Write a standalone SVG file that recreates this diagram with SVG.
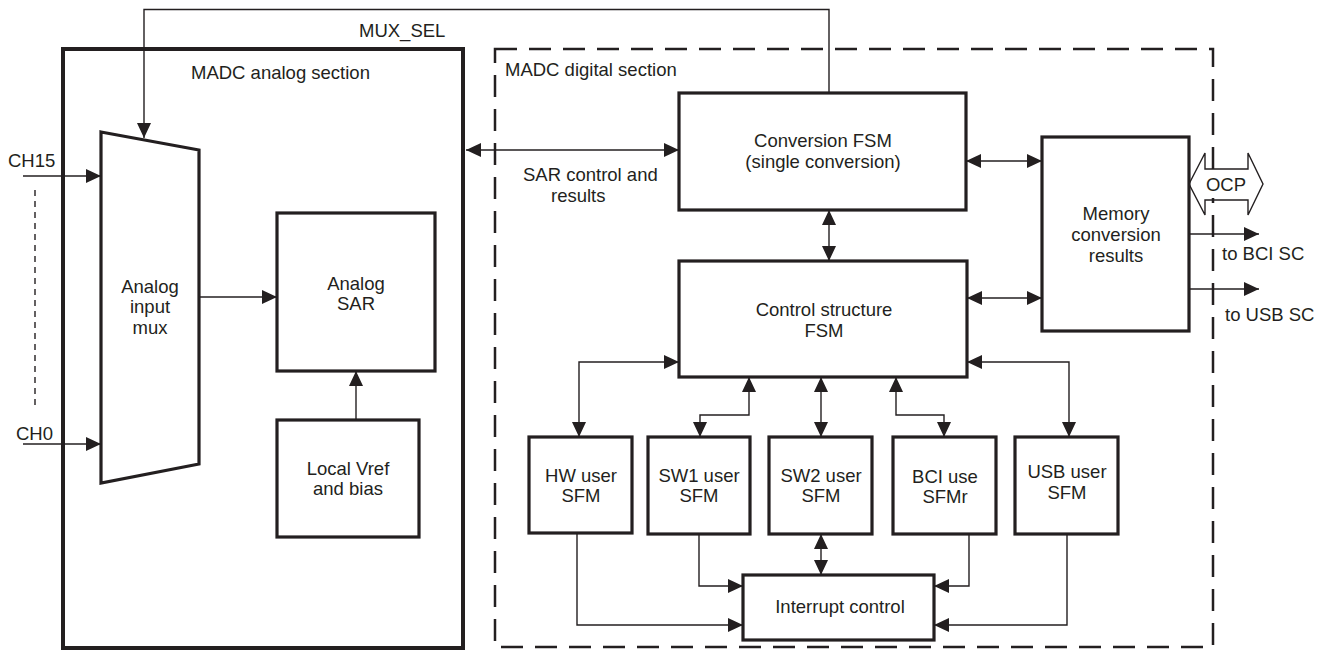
<svg xmlns="http://www.w3.org/2000/svg" width="1326" height="650" viewBox="0 0 1326 650">
<defs>
<marker id="ah" viewBox="0 0 15 14" refX="15" refY="7" markerWidth="15" markerHeight="14" markerUnits="userSpaceOnUse" orient="auto-start-reverse">
<path d="M0,0 L15,7 L0,14 z" fill="#231f20"/>
</marker>
</defs>
<style>
text{font-family:"Liberation Sans",Arial,sans-serif;font-size:18.5px;fill:#231f20}
.c{text-anchor:middle}
.box{fill:none;stroke:#231f20;stroke-width:3.2}
.w{fill:none;stroke:#231f20;stroke-width:1.4}
.a{marker-end:url(#ah)}
.d{marker-start:url(#ah);marker-end:url(#ah)}
</style>
<rect x="0" y="0" width="1326" height="650" fill="#fff"/>
<g id="analog-section">
<rect x="63" y="49" width="400" height="599" fill="none" stroke="#231f20" stroke-width="4"/>
<text x="191" y="79">MADC analog section</text>
</g>
<g id="digital-section">
<rect x="495" y="49" width="718" height="598" fill="none" stroke="#231f20" stroke-width="2.5" stroke-dasharray="22 12"/>
<text x="505" y="76">MADC digital section</text>
</g>
<g id="mux">
<polygon class="box" points="101,132 199,150 199,464 101,483"/>
<text class="c" x="150" y="293">Analog</text>
<text class="c" x="150" y="313">input</text>
<text class="c" x="150" y="334">mux</text>
</g>
<g id="sar">
<rect class="box" x="277" y="213" width="158" height="158"/>
<text class="c" x="356" y="290">Analog</text>
<text class="c" x="356" y="310">SAR</text>
</g>
<g id="vref">
<rect class="box" x="277" y="420" width="142" height="117"/>
<text class="c" x="348" y="475">Local Vref</text>
<text class="c" x="348" y="495">and bias</text>
</g>
<g id="conv-fsm">
<rect class="box" x="679" y="93" width="287" height="117"/>
<text class="c" x="823" y="147">Conversion FSM</text>
<text class="c" x="823" y="168">(single conversion)</text>
</g>
<g id="ctrl-fsm">
<rect class="box" x="679" y="261" width="288" height="116"/>
<text class="c" x="824" y="316">Control structure</text>
<text class="c" x="824" y="337">FSM</text>
</g>
<g id="memory">
<rect class="box" x="1042" y="137" width="147" height="194"/>
<text class="c" x="1116" y="220">Memory</text>
<text class="c" x="1116" y="241">conversion</text>
<text class="c" x="1116" y="262">results</text>
</g>
<g id="hw-user">
<rect class="box" x="529" y="437" width="103" height="96"/>
<text class="c" x="581" y="482">HW user</text>
<text class="c" x="581" y="502">SFM</text>
</g>
<g id="sw1-user">
<rect class="box" x="648" y="437" width="102" height="97"/>
<text class="c" x="699" y="482">SW1 user</text>
<text class="c" x="699" y="502">SFM</text>
</g>
<g id="sw2-user">
<rect class="box" x="769" y="437" width="103" height="97"/>
<text class="c" x="821" y="482">SW2 user</text>
<text class="c" x="821" y="502">SFM</text>
</g>
<g id="bci-user">
<rect class="box" x="893" y="437" width="103" height="97"/>
<text class="c" x="945" y="483">BCI use</text>
<text class="c" x="945" y="503">SFMr</text>
</g>
<g id="usb-user">
<rect class="box" x="1015" y="437" width="103" height="97"/>
<text class="c" x="1067" y="478">USB user</text>
<text class="c" x="1067" y="499">SFM</text>
</g>
<g id="interrupt">
<rect class="box" x="743" y="575" width="191" height="65"/>
<text class="c" x="840" y="613">Interrupt control</text>
</g>
<g id="ocp">
<rect x="1207" y="172" width="39" height="26" fill="#fff"/>
<polygon fill="none" stroke="#231f20" stroke-width="1.4" points="1189,184 1205,153 1205,169 1248,169 1248,153 1263,184 1248,215 1248,200 1205,200 1205,215"/>
<text class="c" x="1226" y="191">OCP</text>
</g>
<g id="connectors">
<path class="w a" d="M829,93 V9.5 H144 V138"/>
<text x="359" y="37">MUX_SEL</text>
<path class="w a" d="M23,176 H101"/>
<text x="8" y="167">CH15</text>
<path class="w a" d="M23,444 H101"/>
<text x="16" y="440">CH0</text>
<path class="w" d="M35,190 V407" stroke-dasharray="6 5"/>
<path class="w a" d="M199,297 H277"/>
<path class="w a" d="M356,420 V371"/>
<path class="w d" d="M466,150 H679"/>
<text x="523" y="181">SAR control and</text>
<text x="551" y="202">results</text>
<path class="w d" d="M829,210 V261"/>
<path class="w d" d="M966,161 H1042"/>
<path class="w d" d="M967,298 H1042"/>
<path class="w a" d="M1189,234 H1259"/>
<text x="1222" y="260">to BCI SC</text>
<path class="w a" d="M1189,289 H1259"/>
<text x="1225" y="321">to USB SC</text>
<path class="w d" d="M579,437 V362 H679"/>
<path class="w d" d="M700,437 V415 H749 V377"/>
<path class="w d" d="M821,437 V377"/>
<path class="w d" d="M944,437 V415 H896 V377"/>
<path class="w d" d="M1069,437 V362 H967"/>
<path class="w a" d="M577,533 V625 H743"/>
<path class="w a" d="M699,534 V586 H743"/>
<path class="w d" d="M821,534 V575"/>
<path class="w a" d="M969,534 V586 H934"/>
<path class="w a" d="M1067,534 V625 H934"/>
</g>
</svg>
